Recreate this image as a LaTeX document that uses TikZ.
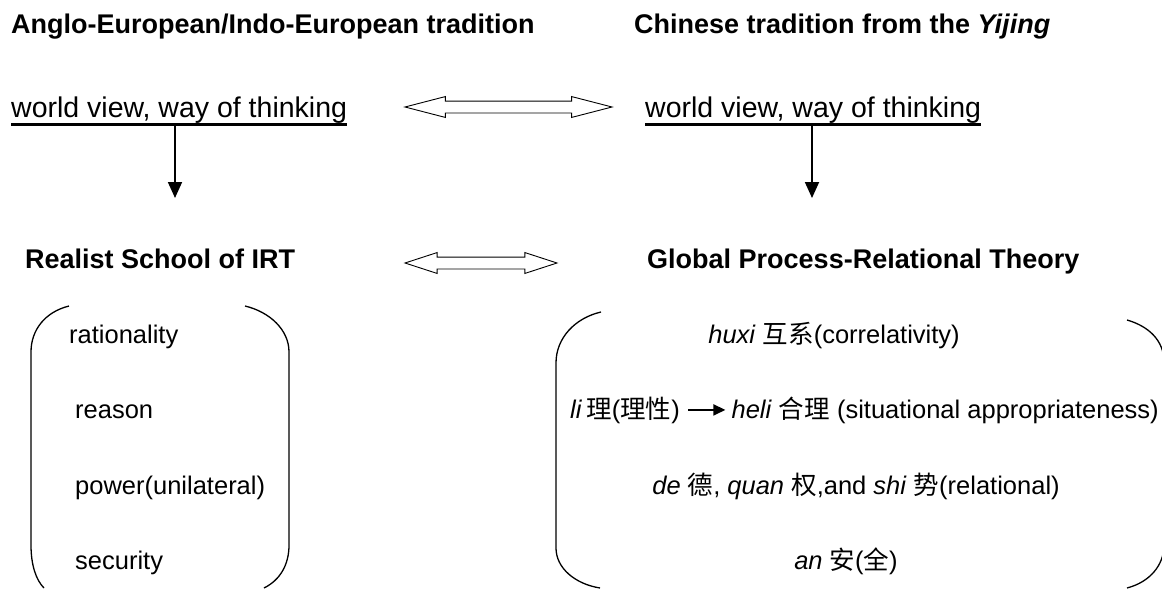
\documentclass[tikz,border=0pt]{standalone}
\usepackage{fontspec}
\setmainfont{Liberation Sans}
\newfontfamily\cjk{Noto Sans CJK SC}
\usetikzlibrary{arrows.meta}
\usetikzlibrary{shapes.arrows}
\usetikzlibrary{calc}

\begin{document}
\begin{tikzpicture}[x=1pt,y=-1pt,
  ttl/.style={inner sep=0, font=\fontsize{27}{32}\selectfont\bfseries},
  wv/.style={inner sep=0, font=\fontsize{28.5}{34}\selectfont},
  itm/.style={inner sep=0, font=\fontsize{25.5}{30}\selectfont},
  dbl/.style={double arrow, draw, line width=0.9pt, inner sep=5.5pt,
    minimum width=20pt, double arrow head extend=4.5pt},
  down/.style={line width=1.8pt, -{Triangle[length=16pt,width=14pt]}},
  brk/.style={line width=1.3pt}]
\useasboundingbox (0,0) rectangle (1162,589);
% the two traditions
\node[ttl, anchor=base west] (angl) at (11,34) {Anglo-European/Indo-European tradition};
\node[ttl, anchor=base west] (chin) at (634,34) {Chinese tradition from the \textit{Yijing}};
\node[wv, anchor=base west] (wvl) at (11,117) {world view, way of thinking};
\node[wv, anchor=base west] (wvr) at (645,117) {world view, way of thinking};
\draw[line width=2.4pt] ([yshift=-1.5pt]wvl.south west) -- ([yshift=-1.5pt]wvl.south east);
\draw[line width=2.4pt] ([yshift=-1.5pt]wvr.south west) -- ([yshift=-1.5pt]wvr.south east);
\node[dbl, minimum height=207pt, double arrow tip angle=29] (link1) at (508.5,107) {};
% the two theories
\coordinate (dl) at (175,198);
\coordinate (dr) at (812,198);
\draw[down] ([yshift=-1.5pt]wvl.south -| dl) -- (dl);
\draw[down] ([yshift=-1.5pt]wvr.south -| dr) -- (dr);
\node[ttl, anchor=base west] (real) at (25,268) {Realist School of IRT};
\node[ttl, anchor=base west] (gprt) at (647,268) {Global Process-Relational Theory};
\node[dbl, minimum height=152pt, double arrow tip angle=36] (link2) at (481,263) {};
% left bracket box
\draw[brk] (69,306) .. controls (45,312) and (31,330) .. (31,352) -- (31,545)
  .. controls (31,565) and (36,580) .. (44,588);
\draw[brk] (245,306) .. controls (270,312) and (289,330) .. (289,352) -- (289,545)
  .. controls (289,565) and (280,580) .. (264,588);
\node[itm, anchor=base west] (rat) at (69,343) {rationality};
\node[itm, anchor=base west] (rea) at (75,418) {reason};
\node[itm, anchor=base west] (pow) at (75,494) {power(unilateral)};
\node[itm, anchor=base west] (sec) at (75,569) {security};
% right bracket box
\draw[brk] (601,312) .. controls (575,318) and (556,338) .. (556,363) -- (556,548)
  .. controls (556,568) and (575,584) .. (600,588);
\draw[brk] (1127,320) .. controls (1148,326) and (1164,340) .. (1164,362) -- (1164,545)
  .. controls (1164,565) and (1150,582) .. (1127,588);
\node[itm, anchor=base] (huxi) at (834,343) {\textit{huxi} {\cjk 互系}(correlativity)};
\node[itm, anchor=base west] (li) at (570,418) {\textit{li}\,{\cjk 理}({\cjk 理性})};
\node[itm, anchor=base east] (heli) at (1159,418) {\textit{heli} {\cjk 合理} (situational appropriateness)};
\draw[line width=1.8pt, -{Triangle[length=12pt,width=11pt]}, shorten <=8pt, shorten >=6pt] (li) -- (heli);
\node[itm, anchor=base] (dqs) at (856,494) {\textit{de} {\cjk 德}, \textit{quan} {\cjk 权},and \textit{shi} {\cjk 势}(relational)};
\node[itm, anchor=base] (an) at (846,569) {\textit{an} {\cjk 安}({\cjk 全})};
\end{tikzpicture}
\end{document}
